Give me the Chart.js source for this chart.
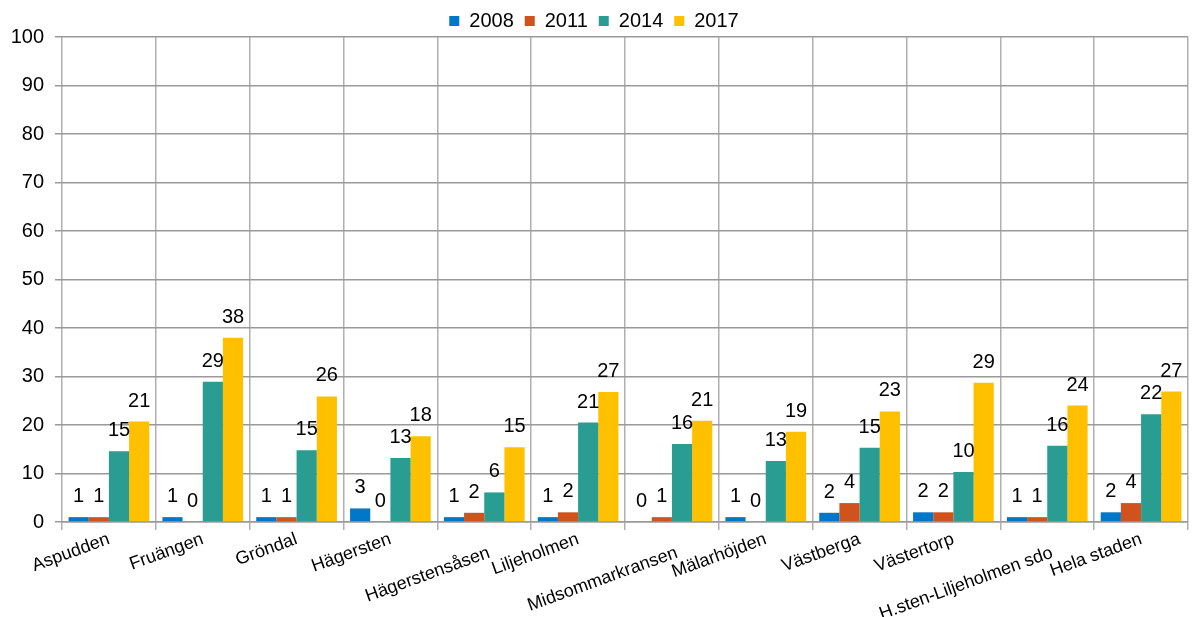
<!DOCTYPE html>
<html>
<head>
<meta charset="utf-8">
<script src="https://cdn.jsdelivr.net/npm/chart.js@4.4.1/dist/chart.umd.min.js"></script>
<style>
  html, body { margin: 0; padding: 0; background: #fff; }
  #wrap { width: 1194px; height: 617px; position: relative; }
</style>
</head>
<body>
<div id="wrap"><canvas id="chart"></canvas></div>
<script>
  // kategorier (några etiketter förskjuts ett steg nedåt som i originalet)
  const categories = [
    "Aspudden", "Fruängen", "Gröndal", "Hägersten", ["", "Hägerstensåsen"],
    "Liljeholmen", ["", "Midsommarkransen"], "Mälarhöjden", "Västberga",
    "Västertorp", ["", "H.sten-Liljeholmen sdo"], "Hela staden"
  ];

  const seriesNames = ["2008", "2011", "2014", "2017"];
  const seriesColors = ["#0077C8", "#D0521C", "#2A9D93", "#FFC000"];

  const v2008 = [1.0, 1.0, 1.0, 2.8, 1.0, 1.0, 0.0, 1.0, 1.9, 2.0, 1.0, 2.0];
  const v2011 = [1.0, 0.0, 1.0, 0.0, 1.9, 2.0, 1.0, 0.0, 3.9, 2.0, 1.0, 3.9];
  const v2014 = [14.6, 28.9, 14.8, 13.2, 6.1, 20.5, 16.1, 12.6, 15.3, 10.3, 15.7, 22.2];
  const v2017 = [20.7, 38.0, 25.9, 17.7, 15.4, 26.8, 20.9, 18.6, 22.8, 28.7, 24.0, 26.9];

  const yTicks = { min: 0, max: 100, step: 10 };

  const FONT = "'Liberation Sans', Arial, sans-serif";

  // värdeetiketter ovanför staplarna
  const valueLabels = {
    id: "valueLabels",
    afterDatasetsDraw(chart) {
      const ctx = chart.ctx;
      ctx.save();
      ctx.font = "20px " + FONT;
      ctx.fillStyle = "#000";
      ctx.textAlign = "center";
      ctx.textBaseline = "alphabetic";
      chart.data.datasets.forEach((ds, i) => {
        const meta = chart.getDatasetMeta(i);
        meta.data.forEach((bar, j) => {
          ctx.fillText(String(Math.round(ds.data[j])), bar.x, bar.y - 15);
        });
      });
      ctx.restore();
    }
  };

  const seriesData = [v2008, v2011, v2014, v2017];

  new Chart(document.getElementById("chart"), {
    type: "bar",
    data: {
      labels: categories,
      datasets: seriesNames.map((name, i) => ({
        label: name,
        data: seriesData[i],
        backgroundColor: seriesColors[i],
        borderWidth: 0,
        categoryPercentage: 0.86,
        barPercentage: 1.0,
      })),
    },
    options: {
      responsive: true,
      maintainAspectRatio: false,
      animation: false,
      layout: { padding: { left: 0, right: 6, top: 0, bottom: 0 } },
      plugins: {
        legend: {
          position: "top",
          maxHeight: 37,
          labels: {
            boxWidth: 10,
            boxHeight: 10,
            padding: 11,
            color: "#000",
            font: { family: FONT, size: 20 },
          },
        },
        tooltip: { enabled: false },
      },
      scales: {
        x: {
          grid: { color: "#b0b0b0", lineWidth: 1.5, tickLength: 8 },
          border: { color: "#9a9a9a", width: 1.5 },
          ticks: {
            color: "#000",
            font: { family: FONT, size: 18, lineHeight: 0.8 },
            minRotation: 20,
            maxRotation: 20,
            padding: 2,
            autoSkip: false,
          },
          afterFit(scale) { scale.height = 95; },
        },
        y: {
          min: yTicks.min,
          max: yTicks.max,
          grid: { color: "#9a9a9a", lineWidth: 1.5, tickLength: 7 },
          border: { display: false },
          ticks: {
            stepSize: yTicks.step,
            color: "#000",
            padding: 11,
            font: { family: FONT, size: 20 },
          },
          afterFit(scale) { scale.width = 62; },
        },
      },
    },
    plugins: [valueLabels],
  });
</script>
</body>
</html>
